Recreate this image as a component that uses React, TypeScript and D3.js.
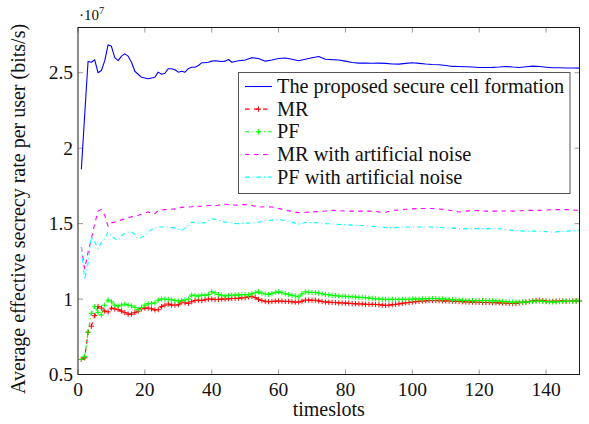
import React from "react";
import * as d3 from "d3";

// Timeslot grids
const slots = d3.range(1, 151); // every timeslot (marked series)
const sampledSlots = [...d3.range(1, 51), ...d3.range(52, 151, 2)];

// Average effective secrecy rate per user, in units of 1e7 bits/s
const proposed = [
  1.86, 2.22, 2.575, 2.57, 2.586, 2.5, 2.515, 2.58, 2.685, 2.675,
  2.6, 2.58, 2.61, 2.625, 2.61, 2.57, 2.51, 2.49, 2.47, 2.465,
  2.46, 2.465, 2.47, 2.504, 2.49, 2.497, 2.527, 2.527, 2.52, 2.504,
  2.51, 2.504, 2.527, 2.537, 2.537, 2.548, 2.566, 2.566, 2.57, 2.577,
  2.58, 2.577, 2.575, 2.577, 2.588, 2.57, 2.575, 2.58, 2.582, 2.585,
  2.6, 2.595, 2.577, 2.585, 2.595, 2.598, 2.59, 2.58, 2.59, 2.6,
  2.608, 2.59, 2.587, 2.585, 2.577, 2.568, 2.564, 2.564, 2.563, 2.564,
  2.562, 2.558, 2.557, 2.562, 2.566, 2.562, 2.558, 2.555, 2.553, 2.548,
  2.542, 2.541, 2.54, 2.538, 2.535, 2.535, 2.536, 2.538, 2.542, 2.538,
  2.535, 2.54, 2.544, 2.541, 2.537, 2.533, 2.533, 2.532, 2.532, 2.531,
];

const mrAN = [
  1.345, 1.2, 1.31, 1.4, 1.5, 1.583, 1.593, 1.555, 1.482, 1.505,
  1.51, 1.515, 1.525, 1.533, 1.54, 1.545, 1.55, 1.555, 1.562, 1.57,
  1.577, 1.57, 1.566, 1.588, 1.59, 1.593, 1.594, 1.595, 1.598, 1.6,
  1.608, 1.61, 1.61, 1.612, 1.62, 1.616, 1.615, 1.618, 1.62, 1.62,
  1.62, 1.622, 1.628, 1.628, 1.627, 1.626, 1.622, 1.625, 1.626, 1.627,
  1.62, 1.61, 1.612, 1.61, 1.6, 1.59, 1.58, 1.573, 1.575, 1.577,
  1.58, 1.584, 1.588, 1.586, 1.583, 1.583, 1.583, 1.583, 1.583, 1.578,
  1.575, 1.588, 1.59, 1.595, 1.598, 1.6, 1.6, 1.6, 1.597, 1.593,
  1.585, 1.577, 1.583, 1.588, 1.586, 1.583, 1.583, 1.583, 1.584, 1.583,
  1.585, 1.588, 1.588, 1.588, 1.59, 1.593, 1.593, 1.593, 1.59, 1.588,
];

const pfAN = [
  1.345, 1.13, 1.235, 1.41, 1.378, 1.334, 1.378, 1.4, 1.444, 1.42,
  1.4, 1.39, 1.42, 1.435, 1.444, 1.445, 1.43, 1.4, 1.41, 1.42,
  1.445, 1.46, 1.475, 1.478, 1.478, 1.478, 1.478, 1.475, 1.47, 1.462,
  1.455, 1.47, 1.49, 1.51, 1.508, 1.505, 1.505, 1.505, 1.52, 1.533,
  1.528, 1.522, 1.515, 1.51, 1.507, 1.505, 1.502, 1.5, 1.5, 1.503,
  1.505, 1.51, 1.518, 1.523, 1.528, 1.52, 1.51, 1.495, 1.508, 1.506,
  1.505, 1.5, 1.498, 1.495, 1.493, 1.49, 1.488, 1.486, 1.482, 1.478,
  1.475, 1.473, 1.475, 1.478, 1.478, 1.478, 1.478, 1.478, 1.475, 1.473,
  1.47, 1.467, 1.467, 1.467, 1.467, 1.467, 1.467, 1.466, 1.46, 1.455,
  1.452, 1.45, 1.45, 1.45, 1.447, 1.444, 1.447, 1.45, 1.453, 1.456,
];

const mr = [
  0.6, 0.61, 0.78, 0.82, 0.89, 0.95, 0.94, 0.92, 0.915, 0.94,
  0.935, 0.93, 0.92, 0.91, 0.9, 0.9, 0.91, 0.92, 0.935, 0.94,
  0.94, 0.935, 0.928, 0.93, 0.95, 0.96, 0.967, 0.96, 0.96, 0.962,
  0.98, 0.975, 0.972, 0.982, 0.99, 0.993, 0.99, 0.995, 1.0, 1.0,
  0.997, 0.998, 1.0, 1.0, 1.002, 1.004, 1.004, 1.006, 1.008, 1.009,
  1.015, 1.018, 1.01, 0.998, 0.99, 0.985, 0.982, 0.984, 0.986, 0.987,
  0.986, 0.984, 0.985, 0.982, 0.98, 0.98, 0.986, 0.993, 0.993, 0.992,
  0.992, 0.988, 0.984, 0.98, 0.979, 0.978, 0.977, 0.975, 0.974, 0.973,
  0.972, 0.97, 0.969, 0.968, 0.967, 0.965, 0.965, 0.965, 0.964, 0.963,
  0.96, 0.958, 0.96, 0.962, 0.965, 0.968, 0.972, 0.975, 0.977, 0.98,
  0.983, 0.985, 0.987, 0.988, 0.99, 0.99, 0.99, 0.989, 0.988, 0.988,
  0.987, 0.986, 0.985, 0.984, 0.982, 0.981, 0.98, 0.98, 0.979, 0.978,
  0.978, 0.977, 0.977, 0.976, 0.975, 0.975, 0.974, 0.972, 0.971, 0.97,
  0.972, 0.975, 0.978, 0.98, 0.984, 0.988, 0.991, 0.993, 0.99, 0.987,
  0.985, 0.985, 0.986, 0.987, 0.987, 0.986, 0.986, 0.987, 0.987, 0.987,
];

const pf = [
  0.6, 0.62, 0.78, 0.905, 0.95, 0.91, 0.894, 0.96, 0.993, 0.982,
  0.96, 0.954, 0.96, 0.967, 0.96, 0.955, 0.945, 0.93, 0.945, 0.96,
  0.97, 0.97, 0.975, 0.993, 1.0, 1.0, 0.998, 0.995, 0.99, 0.987,
  0.99, 0.995, 1.0, 1.026, 1.022, 1.02, 1.026, 1.025, 1.03, 1.048,
  1.04, 1.03, 1.025, 1.02, 1.024, 1.026, 1.026, 1.027, 1.028, 1.03,
  1.028, 1.035, 1.042, 1.048, 1.04, 1.033, 1.03, 1.036, 1.044, 1.048,
  1.042, 1.035, 1.03, 1.025, 1.02, 1.015, 1.035, 1.048, 1.045, 1.044,
  1.043, 1.04, 1.035, 1.03, 1.028, 1.025, 1.023, 1.02, 1.019, 1.018,
  1.016, 1.015, 1.013, 1.012, 1.011, 1.009, 1.007, 1.005, 1.002, 1.0,
  0.999, 0.998, 0.998, 0.998, 0.998, 0.998, 0.998, 0.998, 0.999, 1.0,
  1.001, 1.0, 1.001, 1.002, 1.003, 1.004, 1.003, 1.002, 1.001, 1.0,
  0.998, 0.996, 0.994, 0.993, 0.992, 0.991, 0.99, 0.99, 0.99, 0.99,
  0.99, 0.99, 0.989, 0.988, 0.987, 0.987, 0.985, 0.983, 0.981, 0.98,
  0.98, 0.98, 0.98, 0.98, 0.982, 0.984, 0.986, 0.987, 0.985, 0.983,
  0.981, 0.98, 0.981, 0.983, 0.985, 0.986, 0.986, 0.986, 0.987, 0.987,
];

const xTicks = [0, 20, 40, 60, 80, 100, 120, 140];
const yTicks = [0.5, 1, 1.5, 2, 2.5];
const yTickLabels = ["0.5", "1", "1.5", "2", "2.5"];

const seriesNames = [
  "The proposed secure cell formation",
  "MR",
  "PF",
  "MR with artificial noise",
  "PF with artificial noise",
];

type Series = {
  name: string;
  xs: number[];
  ys: number[];
  color: string;
  dash: string | null;
  marker: boolean;
};

const series: Series[] = [
  { name: seriesNames[0], xs: sampledSlots, ys: proposed, color: "#0000ff", dash: null, marker: false },
  { name: seriesNames[1], xs: slots, ys: mr, color: "#ff0000", dash: "4.5,4.5", marker: true },
  { name: seriesNames[2], xs: slots, ys: pf, color: "#00ff00", dash: "4.5,3,1,3", marker: true },
  { name: seriesNames[3], xs: sampledSlots, ys: mrAN, color: "#ff00ff", dash: "4.5,4.5", marker: false },
  { name: seriesNames[4], xs: sampledSlots, ys: pfAN, color: "#00ffff", dash: "4.5,3,1,3", marker: false },
];

const W = 589;
const H = 424;
const M = { left: 78, right: 579.5, top: 27.5, bottom: 374.5 };
const FONT = '"Liberation Serif", "DejaVu Serif", serif';

function Plus({ x, y, color }: { x: number; y: number; color: string }) {
  const s = 2.6;
  return (
    <path
      d={`M${x - s},${y}H${x + s}M${x},${y - s}V${y + s}`}
      stroke={color}
      strokeWidth={1}
      fill="none"
    />
  );
}

export default function App() {
  const x = d3.scaleLinear().domain([0, 150]).range([M.left, M.right]);
  const y = d3.scaleLinear().domain([0.5, 2.8]).range([M.bottom, M.top]);

  const lineGen = (xs: number[], ys: number[]) =>
    d3
      .line<number>()
      .x((_, i) => x(xs[i]))
      .y((d) => y(d))(ys) || "";

  const tickLen = 5;
  const legend = { x: 238.5, y: 72.5, w: 331.5, h: 121, row0: 86.5, dy: 22.65 };
  const textStyle = { fontFamily: FONT };

  return (
    <svg
      width={W}
      height={H}
      style={{ position: "absolute", left: 0, top: 0, background: "#fff", fontFamily: FONT }}
    >
      <defs>
        <clipPath id="plot-area">
          <rect x={M.left} y={M.top} width={M.right - M.left} height={M.bottom - M.top} />
        </clipPath>
      </defs>

      {/* tick marks on all four sides, pointing inward */}
      <g stroke="#9a9a9a" strokeWidth={1}>
        {xTicks.map((t) => (
          <g key={`xt${t}`}>
            <line x1={x(t)} x2={x(t)} y1={M.bottom} y2={M.bottom - tickLen} />
            <line x1={x(t)} x2={x(t)} y1={M.top} y2={M.top + tickLen} />
          </g>
        ))}
        {yTicks.map((t) => (
          <g key={`yt${t}`}>
            <line x1={M.left} x2={M.left + tickLen} y1={y(t)} y2={y(t)} />
            <line x1={M.right} x2={M.right - tickLen} y1={y(t)} y2={y(t)} />
          </g>
        ))}
      </g>

      {/* series */}
      <g clipPath="url(#plot-area)">
        {series.map((s) => (
          <path
            key={s.name}
            d={lineGen(s.xs, s.ys)}
            fill="none"
            stroke={s.color}
            strokeWidth={1.1}
            strokeDasharray={s.dash ?? undefined}
            strokeLinejoin="round"
          />
        ))}
      </g>
      {series
        .filter((s) => s.marker)
        .map((s) => (
          <g key={`m-${s.name}`}>
            {s.ys.map((v, i) => (
              <Plus key={i} x={x(s.xs[i])} y={y(v)} color={s.color} />
            ))}
          </g>
        ))}

      {/* axis frame */}
      <rect
        x={M.left}
        y={M.top}
        width={M.right - M.left}
        height={M.bottom - M.top}
        fill="none"
        stroke="#1a1a1a"
        strokeWidth={1}
      />

      {/* tick labels */}
      <g fontSize={19.5} fill="#111" style={textStyle}>
        {xTicks.map((t) => (
          <text key={`xl${t}`} x={x(t)} y={M.bottom + 21} textAnchor="middle" style={textStyle}>
            {t}
          </text>
        ))}
        {yTicks.map((t, i) => (
          <text key={`yl${t}`} x={M.left - 5} y={y(t) + 6.5} textAnchor="end" style={textStyle}>
            {yTickLabels[i]}
          </text>
        ))}
      </g>

      {/* scale factor */}
      <text x={79} y={20} fontSize={15} fill="#111" style={textStyle}>
        ·10
        <tspan fontSize={10.5} dy={-6.5}>
          7
        </tspan>
      </text>

      {/* axis titles */}
      <text
        x={(M.left + M.right) / 2}
        y={416}
        textAnchor="middle"
        fontSize={20}
        fill="#111"
        style={textStyle}
      >
        timeslots
      </text>
      <text
        transform={`translate(${25},${(M.top + M.bottom) / 2 + 8}) rotate(-90)`}
        textAnchor="middle"
        fontSize={20}
        fill="#111"
        style={textStyle}
      >
        Average effective secrecy rate per user (bits/s)
      </text>

      {/* legend */}
      <rect
        x={legend.x}
        y={legend.y}
        width={legend.w}
        height={legend.h}
        fill="#fff"
        stroke="#555"
        strokeWidth={1}
      />
      {series.map((s, i) => {
        const cy = legend.row0 + i * legend.dy;
        return (
          <g key={`lg-${s.name}`}>
            <line
              x1={245}
              x2={272}
              y1={cy}
              y2={cy}
              stroke={s.color}
              strokeWidth={1.1}
              strokeDasharray={s.dash ?? undefined}
            />
            {s.marker && <Plus x={258.5} y={cy} color={s.color} />}
            <text x={277} y={cy + 6.5} fontSize={20.3} fill="#111" style={textStyle}>
              {s.name}
            </text>
          </g>
        );
      })}
    </svg>
  );
}
